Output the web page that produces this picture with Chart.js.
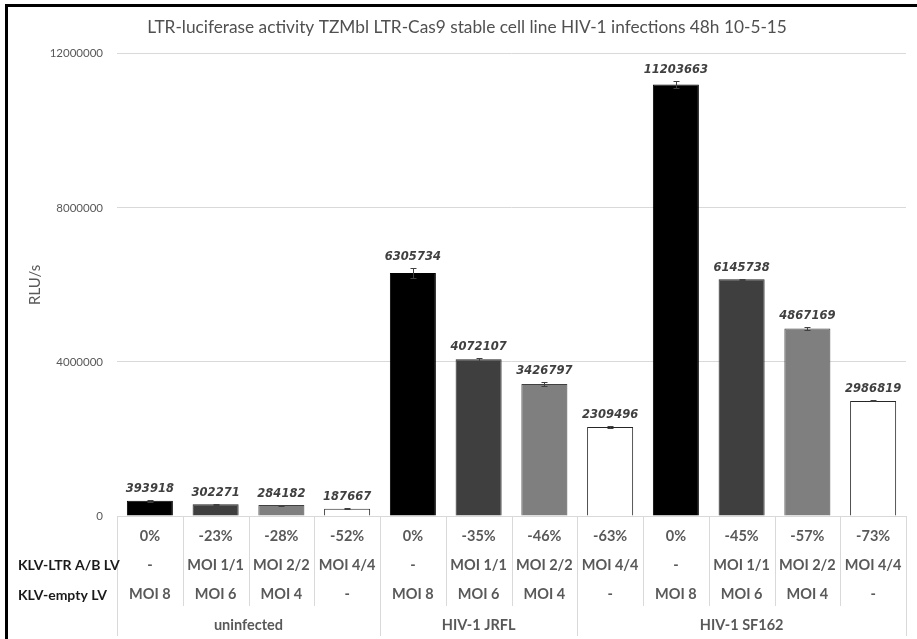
<!DOCTYPE html>
<html>
<head>
<meta charset="utf-8">
<title>LTR-luciferase activity</title>
<script src="https://cdn.jsdelivr.net/npm/chart.js@4.4.1/dist/chart.umd.min.js"></script>
<style>
  html, body { margin: 0; padding: 0; background: #ffffff; }
  #wrap { position: relative; width: 917px; height: 639px; overflow: hidden; }
  #frame {
    position: absolute; left: 5px; top: 4px; right: 0; bottom: 0;
    border-top: 3px solid #000; border-left: 3px solid #000;
    pointer-events: none;
  }
  canvas { display: block; }
</style>
</head>
<body>
<div id="wrap">
  <canvas id="chart" width="917" height="639"></canvas>
  <div id="frame"></div>
</div>
<script>
// Luciferase readout (RLU/s) per condition, with error bar half-widths
const rluValues = [393918, 302271, 284182, 187667, 6305734, 4072107, 3426797, 2309496, 11203663, 6145738, 4867169, 2986819];
const rluErrors = [20000, 12000, 12000, 10000, 130000, 40000, 40000, 15000, 95000, 15000, 30000, 12000];

// Category table rows under the axis
const reductionLabels = ['0%', '-23%', '-28%', '-52%', '0%', '-35%', '-46%', '-63%', '0%', '-45%', '-57%', '-73%'];
const klvLtrLabels = ['-', 'MOI 1/1', 'MOI 2/2', 'MOI 4/4', '-', 'MOI 1/1', 'MOI 2/2', 'MOI 4/4', '-', 'MOI 1/1', 'MOI 2/2', 'MOI 4/4'];
const klvEmptyLabels = ['MOI 8', 'MOI 6', 'MOI 4', '-', 'MOI 8', 'MOI 6', 'MOI 4', '-', 'MOI 8', 'MOI 6', 'MOI 4', '-'];
const rowHeaders = ['KLV-LTR A/B LV', 'KLV-empty LV'];

// Outer grouping: names and how many categories each one covers
const groupNames = ['uninfected', 'HIV-1 JRFL', 'HIV-1 SF162'];
const groupSizes = [4, 3, 5];

// Y axis ticks
const yTicks = [0, 4000000, 8000000, 12000000];

const TITLE = 'LTR-luciferase activity TZMbl LTR-Cas9 stable cell line HIV-1 infections 48h 10-5-15';

// Bar shading cycles through the four vector conditions
const shadeFill = ['#000000', '#3f3f3f', '#7f7f7f', '#ffffff'];
const shadeEdge = ['#000000', '#262626', '#404040', '#262626'];

const categoryLabels = rluValues.map((_, i) => [reductionLabels[i], klvLtrLabels[i], klvEmptyLabels[i]]);

const GRID = '#d9d9d9';
const TEXT = '#595959';
const SANS = 'Lato, "Open Sans", sans-serif';
const LEFT_PAD = 28;

const tablePlugin = {
  id: 'tablePlugin',
  afterDatasetsDraw(chart) {
    const { ctx } = chart;
    const y = chart.scales.y;
    const meta = chart.getDatasetMeta(0);
    ctx.save();
    // error bars
    ctx.strokeStyle = '#404040';
    ctx.lineWidth = 1;
    meta.data.forEach((bar, i) => {
      const yHi = Math.round(y.getPixelForValue(rluValues[i] + rluErrors[i])) + 0.5;
      const yLo = Math.round(y.getPixelForValue(rluValues[i] - rluErrors[i])) + 0.5;
      const x = Math.round(bar.x) + 0.5;
      ctx.beginPath();
      ctx.moveTo(x, yHi); ctx.lineTo(x, yLo);
      ctx.moveTo(x - 3, yHi); ctx.lineTo(x + 3, yHi);
      ctx.moveTo(x - 3, yLo); ctx.lineTo(x + 3, yLo);
      ctx.stroke();
    });
    // value labels
    ctx.fillStyle = '#404040';
    ctx.font = 'italic bold 11.5px "DejaVu Sans", sans-serif';
    ctx.textAlign = 'center';
    ctx.textBaseline = 'middle';
    meta.data.forEach((bar, i) => {
      const top = y.getPixelForValue(rluValues[i] + rluErrors[i]);
      ctx.fillText(String(rluValues[i]), bar.x, top - 11);
    });
    ctx.restore();
  },
  afterDraw(chart) {
    const { ctx, chartArea } = chart;
    const x = chart.scales.x;
    const n = rluValues.length;
    const step = x.getPixelForValue(1) - x.getPixelForValue(0);
    const edge = (k) => x.getPixelForValue(0) - step / 2 + k * step;
    const groupEdges = [0];
    groupSizes.forEach(s => groupEdges.push(groupEdges[groupEdges.length - 1] + s));
    const base = chartArea.bottom;
    ctx.save();
    ctx.strokeStyle = GRID;
    ctx.lineWidth = 1;
    for (let k = 0; k <= n; k++) {
      const xx = Math.round(edge(k)) + 0.5;
      const long = groupEdges.includes(k);
      ctx.beginPath();
      ctx.moveTo(xx, base);
      ctx.lineTo(xx, base + (long ? 120 : 90));
      ctx.stroke();
    }
    // row headers
    ctx.fillStyle = '#1a1a1a';
    ctx.font = 'bold 14px ' + SANS;
    ctx.textAlign = 'left';
    ctx.textBaseline = 'middle';
    ctx.fillText(rowHeaders[0], 18, base + 49);
    ctx.fillText(rowHeaders[1], 18, base + 79);
    // group labels
    ctx.fillStyle = TEXT;
    ctx.font = 'bold 14.5px ' + SANS;
    ctx.textAlign = 'center';
    groupNames.forEach((g, j) => {
      const cx = (edge(groupEdges[j]) + edge(groupEdges[j + 1])) / 2;
      ctx.fillText(g, cx, base + 109);
    });
    ctx.restore();
  }
};

new Chart(document.getElementById('chart'), {
  type: 'bar',
  data: {
    labels: categoryLabels,
    datasets: [{
      data: rluValues,
      backgroundColor: rluValues.map((_, i) => shadeFill[i % 4]),
      borderColor: rluValues.map((_, i) => shadeEdge[i % 4]),
      borderWidth: 1,
      barPercentage: 0.7,
      categoryPercentage: 1.0
    }]
  },
  options: {
    responsive: false,
    animation: false,
    devicePixelRatio: 1,
    layout: { padding: { left: LEFT_PAD, right: 11, top: 0, bottom: 0 } },
    plugins: {
      legend: { display: false },
      tooltip: { enabled: false },
      title: {
        display: true,
        text: TITLE,
        color: '#505050',
        font: { family: SANS, size: 17.3, weight: 'normal' },
        padding: { top: 17, bottom: 16 }
      }
    },
    scales: {
      x: {
        grid: { display: false, drawTicks: false },
        border: { display: true, color: GRID, width: 1 },
        ticks: {
          color: TEXT,
          font: { family: SANS, size: 14.5, weight: 'bold', lineHeight: 2.0 },
          padding: 6,
          maxRotation: 0,
          autoSkip: false
        },
        afterFit(scale) { scale.height = 123; }
      },
      y: {
        min: 0,
        max: 12000000,
        afterBuildTicks(scale) { scale.ticks = yTicks.map(v => ({ value: v })); },
        grid: { color: GRID, drawTicks: false },
        border: { display: false },
        ticks: {
          color: TEXT,
          font: { family: SANS, size: 11.5 },
          padding: 14,
          callback: (v) => String(v)
        },
        title: {
          display: true,
          text: 'RLU/s',
          color: TEXT,
          font: { family: SANS, size: 15 },
          padding: { top: -2, bottom: 0 }
        },
        afterFit(scale) { scale.width = 117 - LEFT_PAD; }
      }
    }
  },
  plugins: [tablePlugin]
});
</script>
</body>
</html>
